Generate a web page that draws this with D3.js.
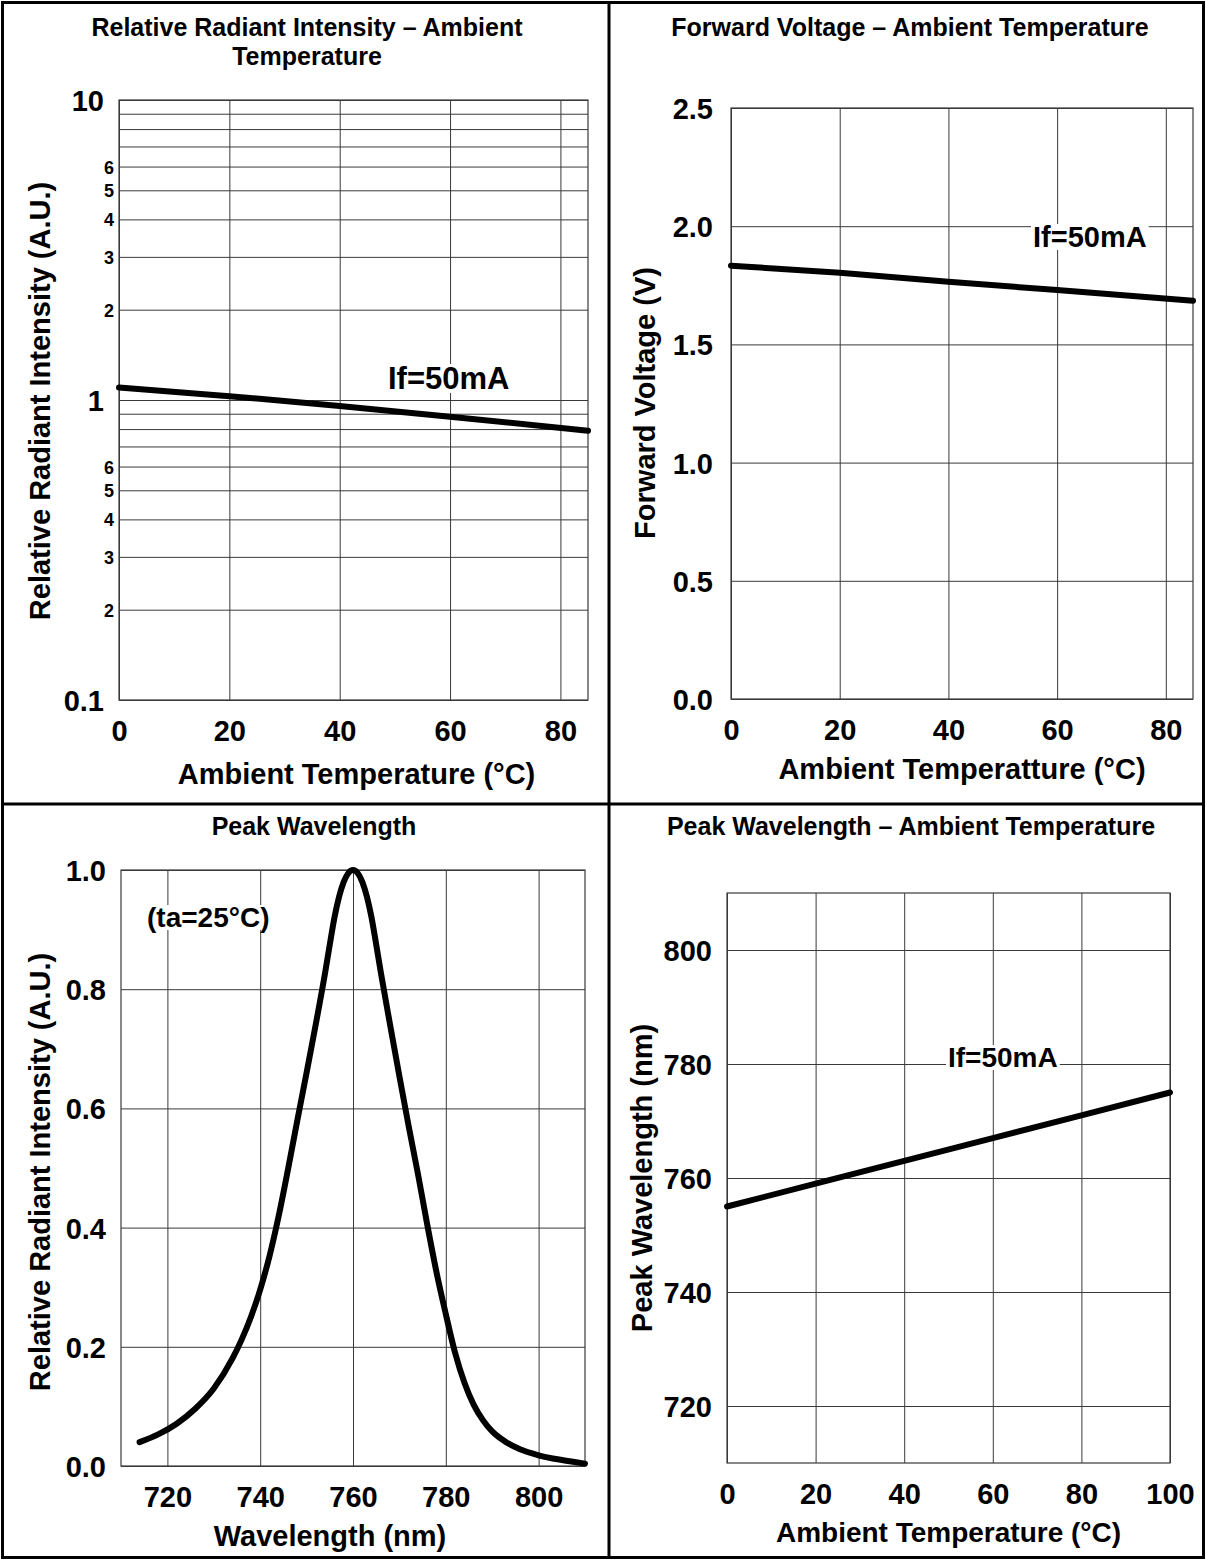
<!DOCTYPE html>
<html><head><meta charset="utf-8">
<script src="https://cdn.jsdelivr.net/npm/d3@7"></script>
<style>
body{margin:0;background:#fff}
svg text{font-family:"Liberation Sans",Arial,sans-serif;font-weight:bold;fill:#000}
</style></head><body>
<svg id="c" width="1206" height="1560"></svg>
<script>
// ---------- DATA ----------
// Chart 1: Relative Radiant Intensity vs Ambient Temperature (log scale)
const riTemp = [0, 20, 40, 60, 85];
const riValue = [1.10, 1.03, 0.955, 0.88, 0.79];
const riXTicks = [0, 20, 40, 60, 80];
const riYGrid = [0.1,0.2,0.3,0.4,0.5,0.6,0.7,0.8,0.9,1,2,3,4,5,6,7,8,9,10];
const riYMajor = [0.1, 1, 10];
const riYMinor = [0.2,0.3,0.4,0.5,0.6,2,3,4,5,6];

// Chart 2: Forward Voltage vs Ambient Temperature
const vfTemp = [0, 20, 40, 60, 85];
const vfValue = [1.833, 1.803, 1.765, 1.730, 1.685];
const vfXTicks = [0, 20, 40, 60, 80];
const vfYTicks = [0, 0.5, 1.0, 1.5, 2.0, 2.5];

// Chart 3: Spectrum (ta=25°C)
const specWL = [714,718,722,726,730,734,736,738,740,742,744,746,748,750,752,754,755,756,757,758,759,760,761,762,763,764,765,766,768,770,772,774,776,778,780,782,784,786,788,790,793,796,800,805,810];
const specValue = [0.040,0.053,0.071,0.096,0.130,0.180,0.212,0.250,0.296,0.352,0.420,0.498,0.580,0.660,0.742,0.828,0.875,0.92,0.955,0.98,0.995,1.00,0.995,0.98,0.955,0.92,0.875,0.828,0.74,0.654,0.57,0.49,0.405,0.325,0.255,0.19,0.14,0.103,0.077,0.058,0.040,0.028,0.018,0.010,0.004];
const specXTicks = [720, 740, 760, 780, 800];
const specYTicks = [0, 0.2, 0.4, 0.6, 0.8, 1.0];

// Chart 4: Peak Wavelength vs Ambient Temperature
const pwTemp = [0, 20, 40, 60, 80, 100];
const pwValue = [755, 759, 763, 767, 771, 775];
const pwXTicks = [0, 20, 40, 60, 80, 100];
const pwYTicks = [720, 740, 760, 780, 800];

// ---------- DRAW ----------
const svg = d3.select('#c');
const GRID = '#3a3a3a';

function panel(c) {
  const g = svg.append('g');
  const x = d3.scaleLinear().domain(c.xDomain).range([c.left, c.right]);
  const y = (c.log ? d3.scaleLog() : d3.scaleLinear()).domain(c.yDomain).range([c.bottom, c.top]);
  const H = c.bottom - c.top, W = c.right - c.left;

  // grid lines
  g.append('g').attr('transform', `translate(0,${c.bottom})`)
    .call(d3.axisBottom(x).tickValues(c.xGrid).tickSize(-H).tickFormat(''))
    .call(s => { s.select('.domain').remove(); s.selectAll('line').attr('stroke', GRID).attr('stroke-width', 1); });
  g.append('g').attr('transform', `translate(${c.left},0)`)
    .call(d3.axisLeft(y).tickValues(c.yGrid).tickSize(-W).tickFormat(''))
    .call(s => { s.select('.domain').remove(); s.selectAll('line').attr('stroke', GRID).attr('stroke-width', 1); });
  g.append('rect').attr('x', c.left).attr('y', c.top).attr('width', W).attr('height', H)
    .attr('fill', 'none').attr('stroke', GRID).attr('stroke-width', 1.2);

  // x tick labels
  g.append('g').attr('transform', `translate(0,${c.bottom})`)
    .call(d3.axisBottom(x).tickValues(c.xTicks).tickSize(0).tickFormat(c.xFmt || d3.format('d')))
    .call(s => { s.select('.domain').remove(); s.selectAll('text').attr('y', c.xLabelY).attr('dy', 0)
      .style('font-size', c.tickSize + 'px').attr('fill', '#000'); });
  // y tick labels
  g.append('g').attr('transform', `translate(${c.left},0)`)
    .call(d3.axisLeft(y).tickValues(c.yTicks).tickSize(0).tickFormat(c.yFmt))
    .call(s => { s.select('.domain').remove(); s.selectAll('text').attr('dy', '0.36em')
      .style('font-size', d => (c.yMinor && c.yMinor.includes(d) ? c.minorSize : c.tickSize) + 'px')
      .attr('x', d => (c.yMinor && c.yMinor.includes(d) ? c.yMinorX : c.yLabelX)).attr('fill', '#000'); });

  // axis titles
  g.append('text').attr('x', (c.left + c.right) / 2 + (c.xTitleDx || 0)).attr('y', c.xTitleY)
    .attr('text-anchor', 'middle').style('font-size', c.xTitleSize + 'px').text(c.xTitle);
  g.append('text').attr('transform', `translate(${c.yTitleX},${c.yTitleCY}) rotate(-90)`)
    .attr('text-anchor', 'middle').style('font-size', c.yTitleSize + 'px').text(c.yTitle);

  // chart title
  c.title.forEach((t, i) => g.append('text').attr('x', c.titleX).attr('y', c.titleY + i * 29)
    .attr('text-anchor', 'middle').style('font-size', '25px').text(t));

  // annotation with white background
  c.notes.forEach(n => {
    const t = g.append('text').attr('x', n.x).attr('y', n.y).style('font-size', n.size + 'px').text(n.text);
    const b = t.node().getBBox();
    g.insert('rect', () => t.node()).attr('x', b.x - 2).attr('y', b.y + 3).attr('width', b.width + 4)
      .attr('height', b.height - 6).attr('fill', '#fff');
  });

  // data line
  const line = d3.line().x(d => x(d[0])).y(d => y(d[1])).curve(c.curve || d3.curveLinear);
  g.append('path').datum(d3.zip(c.xs, c.ys)).attr('d', line)
    .attr('fill', 'none').attr('stroke', '#000').attr('stroke-width', 6)
    .attr('stroke-linecap', 'round').attr('stroke-linejoin', 'round');
}

// Chart 1
panel({
  left: 119, right: 588, top: 100, bottom: 700,
  xDomain: [0, 85], yDomain: [0.1, 10], log: true,
  xGrid: riXTicks, yGrid: riYGrid, xTicks: riXTicks,
  yTicks: riYMajor.concat(riYMinor), yMinor: riYMinor,
  yFmt: d => (d < 1 && d > 0.1 ? String(Math.round(d * 10)) : String(d)),
  tickSize: 29, minorSize: 18, xLabelY: 41, yLabelX: -15, yMinorX: -5,
  xTitle: 'Ambient Temperature (°C)', xTitleY: 784, xTitleSize: 29, xTitleDx: 3,
  yTitle: 'Relative Radiant Intensity (A.U.)', yTitleX: 50, yTitleCY: 401, yTitleSize: 29,
  title: ['Relative Radiant Intensity – Ambient', 'Temperature'], titleX: 307, titleY: 36,
  notes: [{ text: 'If=50mA', x: 388, y: 389, size: 31 }],
  xs: riTemp, ys: riValue
});

// Chart 2
panel({
  left: 731, right: 1193, top: 108, bottom: 699,
  xDomain: [0, 85], yDomain: [0, 2.5],
  xGrid: vfXTicks, yGrid: vfYTicks, xTicks: vfXTicks, yTicks: vfYTicks,
  yFmt: d3.format('.1f'),
  tickSize: 29, xLabelY: 41, yLabelX: -18,
  xTitle: 'Ambient Temperatture (°C)', xTitleY: 779, xTitleSize: 29, xTitleDx: 0,
  yTitle: 'Forward Voltage (V)', yTitleX: 655, yTitleCY: 403, yTitleSize: 29,
  title: ['Forward Voltage – Ambient Temperature'], titleX: 910, titleY: 36,
  notes: [{ text: 'If=50mA', x: 1033, y: 247, size: 29 }],
  xs: vfTemp, ys: vfValue
});

// Chart 3
panel({
  left: 121, right: 585, top: 870, bottom: 1466,
  xDomain: [710, 810], yDomain: [0, 1],
  xGrid: specXTicks, yGrid: specYTicks, xTicks: specXTicks, yTicks: specYTicks,
  yFmt: d3.format('.1f'),
  tickSize: 29, xLabelY: 41, yLabelX: -15,
  xTitle: 'Wavelength (nm)', xTitleY: 1546, xTitleSize: 29, xTitleDx: -23,
  yTitle: 'Relative Radiant Intensity (A.U.)', yTitleX: 50, yTitleCY: 1172, yTitleSize: 29,
  title: ['Peak Wavelength'], titleX: 314, titleY: 835,
  notes: [{ text: '(ta=25°C)', x: 147, y: 927, size: 28 }],
  xs: specWL, ys: specValue, curve: d3.curveMonotoneX
});

// Chart 4
panel({
  left: 727, right: 1170, top: 893, bottom: 1463,
  xDomain: [0, 100], yDomain: [710, 810],
  xGrid: pwXTicks, yGrid: pwYTicks, xTicks: pwXTicks, yTicks: pwYTicks,
  yFmt: d3.format('d'),
  tickSize: 29, xLabelY: 41, yLabelX: -15,
  xTitle: 'Ambient Temperature (°C)', xTitleY: 1542, xTitleSize: 28, xTitleDx: 0,
  yTitle: 'Peak Wavelength (nm)', yTitleX: 652, yTitleCY: 1178, yTitleSize: 29,
  title: ['Peak Wavelength – Ambient Temperature'], titleX: 911, titleY: 835,
  notes: [{ text: 'If=50mA', x: 948, y: 1067, size: 28 }],
  xs: pwTemp, ys: pwValue
});

// table borders
svg.append('rect').attr('x', 2.5).attr('y', 2.5).attr('width', 1201).attr('height', 1555)
  .attr('fill', 'none').attr('stroke', '#000').attr('stroke-width', 3);
svg.append('line').attr('x1', 609).attr('x2', 609).attr('y1', 2).attr('y2', 1558).attr('stroke', '#000').attr('stroke-width', 3);
svg.append('line').attr('x1', 2).attr('x2', 1204).attr('y1', 804).attr('y2', 804).attr('stroke', '#000').attr('stroke-width', 3);
</script></body></html>
